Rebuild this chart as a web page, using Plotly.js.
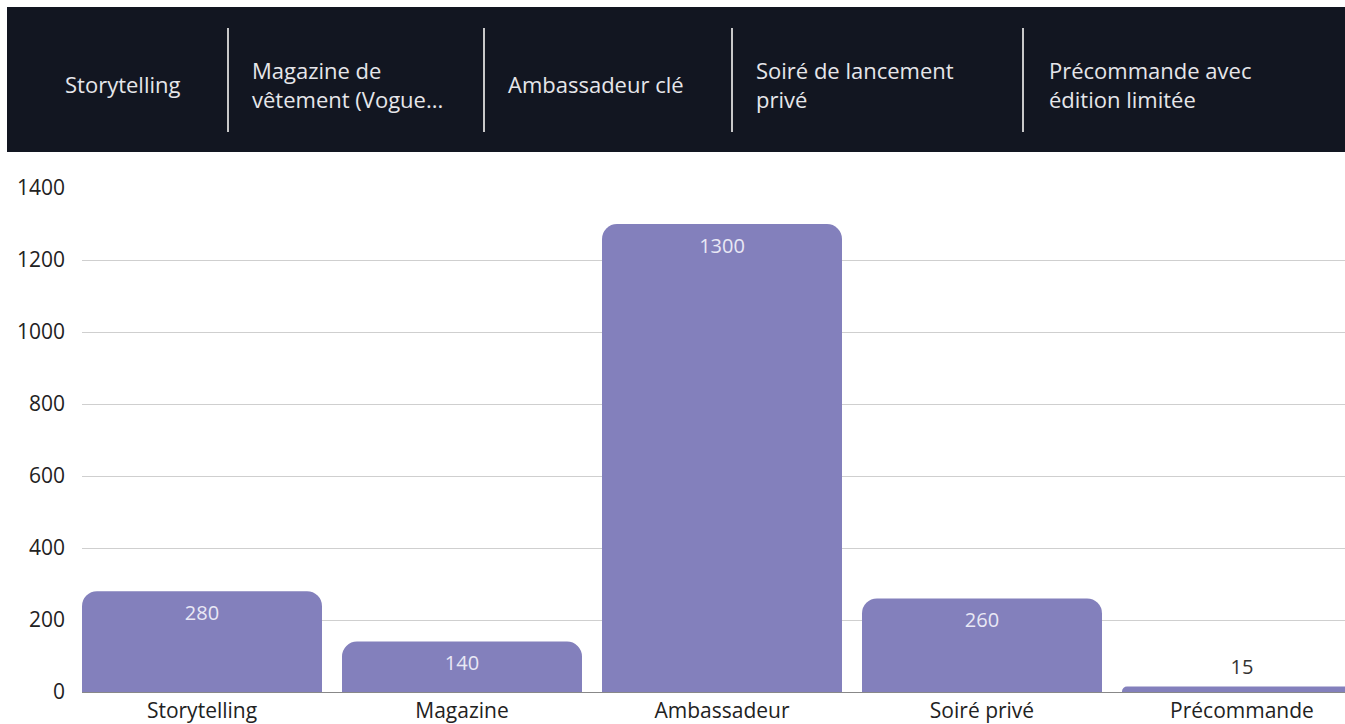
<!DOCTYPE html>
<html>
<head>
<meta charset="utf-8">
<script src="https://cdn.plot.ly/plotly-3.0.1.min.js"></script>
<style>
html,body{margin:0;padding:0;background:#fff;overflow:hidden;}
#chart{width:1345px;height:724px;}
</style>
</head>
<body>
<div id="chart"></div>
<script>
// Data
const categories = ["Storytelling", "Magazine", "Ambassadeur", "Soiré privé", "Précommande"];
const values = [280, 140, 1300, 260, 15];
const headerLabels = ["Storytelling", "Magazine de<br>vêtement (Vogue...", "Ambassadeur clé", "Soiré de lancement<br>privé", "Précommande avec<br>édition limitée"];
const yTicks = [0, 200, 400, 600, 800, 1000, 1200, 1400];

// Geometry helpers (pixel -> paper)
const W = 1345, H = 724;
const mL = 82, mR = 0, mT = 188, mB = 32;
const pw = W - mL - mR, ph = H - mT - mB;
const px = x => (x - mL) / pw;
const py = y => (H - mB - y) / ph;

const FONT = "Open Sans, sans-serif";

const headerX = [63, 250, 506, 754, 1047];
const dividerX = [228, 484, 732, 1023];

const shapes = [{
  type: "rect", xref: "paper", yref: "paper", layer: "below",
  x0: px(7), x1: px(1350), y0: py(7), y1: py(152),
  fillcolor: "#121621", line: {width: 0}
}];
dividerX.forEach(x => shapes.push({
  type: "line", xref: "paper", yref: "paper",
  x0: px(x), x1: px(x), y0: py(28), y1: py(132),
  line: {color: "#c8c8c8", width: 2}
}));

const annotations = headerLabels.map((t, i) => ({
  text: t, xref: "paper", yref: "paper",
  x: px(headerX[i]), y: py(84), xanchor: "left", yanchor: "middle",
  align: "left", showarrow: false,
  font: {family: FONT, size: 22, color: "#e6e6ea"}
}));

const bars = {
  type: "bar",
  x: categories,
  y: values,
  marker: {color: "#8380bc", cornerradius: 15},
  hoverinfo: "none"
};

// value labels: inside near the top for tall bars, above for tiny ones
const fits = values.map(v => v >= 100);
const labels = {
  type: "scatter",
  mode: "markers+text",
  x: categories,
  y: values,
  text: values.map(String),
  textposition: fits.map(f => f ? "bottom center" : "top center"),
  marker: {size: fits.map(f => f ? 20 : 10), opacity: 0, line: {width: 0}},
  textfont: {family: FONT, size: 20, color: fits.map(f => f ? "#e9e8f5" : "#333333")},
  cliponaxis: false,
  hoverinfo: "none"
};

const layout = {
  width: W, height: H,
  margin: {l: mL, r: mR, t: mT, b: mB, pad: 0},
  paper_bgcolor: "#ffffff",
  plot_bgcolor: "#ffffff",
  showlegend: false,
  bargap: 20 / 260,
  font: {family: FONT, color: "#333"},
  xaxis: {
    type: "category",
    range: [-0.5 + 10 / 260, (W - mR - 202) / 260],
    showgrid: false, zeroline: false,
    showline: true, linecolor: "#888", linewidth: 1,
    ticks: "",
    tickfont: {family: FONT, size: 21, color: "#222"},
    fixedrange: true
  },
  yaxis: {
    range: [0, 1400],
    tickvals: yTicks,
    ticktext: yTicks.map(String),
    showgrid: true, gridcolor: "#cfcfcf", gridwidth: 1,
    zeroline: false, showline: false,
    ticks: "",
    ticklabelstandoff: 16,
    tickfont: {family: FONT, size: 21, color: "#222"},
    fixedrange: true
  },
  shapes: shapes,
  annotations: annotations
};

Plotly.newPlot("chart", [bars, labels], layout, {displayModeBar: false, staticPlot: true});
</script>
</body>
</html>
